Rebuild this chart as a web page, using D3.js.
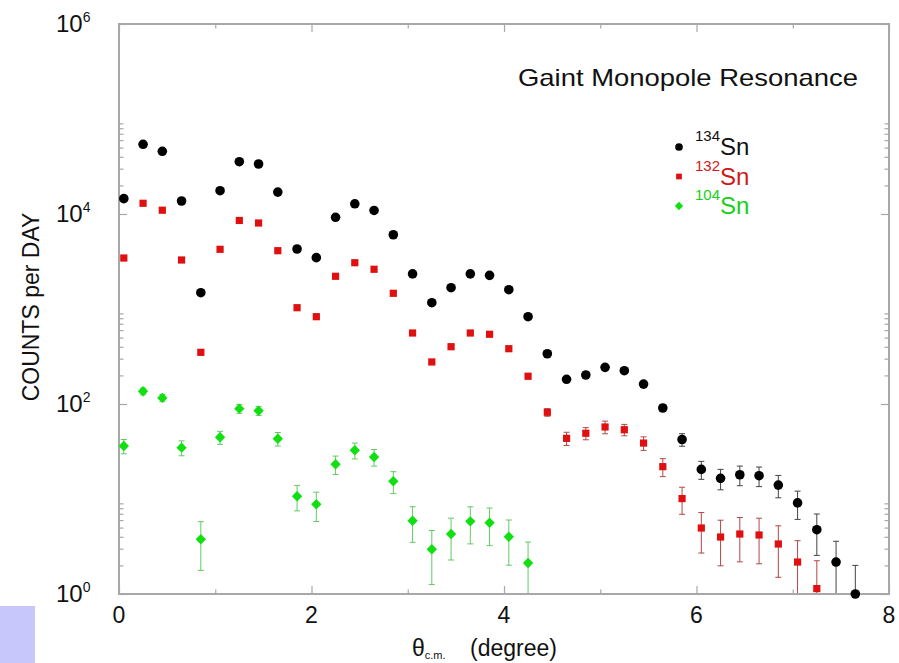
<!DOCTYPE html>
<html>
<head>
<meta charset="utf-8">
<script src="https://cdn.jsdelivr.net/npm/d3@7"></script>
<style>
  html, body { margin: 0; padding: 0; background: #fff; }
  svg { display: block; }
  text { font-family: "Liberation Sans", Arial, Helvetica, sans-serif; fill: #111; }
</style>
</head>
<body>
<svg id="chart" width="899" height="663"></svg>
<script>
// Scattering angle (c.m., degrees) of each bin
const theta134 = [0.05, 0.25, 0.45, 0.65, 0.85, 1.05, 1.25, 1.45, 1.65, 1.85,
  2.05, 2.25, 2.45, 2.65, 2.85, 3.05, 3.25, 3.45, 3.65, 3.85,
  4.05, 4.25, 4.45, 4.65, 4.85, 5.05, 5.25, 5.45, 5.65, 5.85,
  6.05, 6.25, 6.45, 6.65, 6.85, 7.05, 7.25, 7.45, 7.65];
const theta132 = theta134.slice(0, 37);
const theta104 = theta134.slice(0, 22);

// Counts per day and their errors
const counts134 = [14500, 54200, 45700, 13700, 1485, 17600, 35500, 33600, 17000, 4280,
  3470, 9230, 12800, 10900, 6050, 2340, 1165, 1675, 2340, 2260,
  1596, 830, 338, 182, 202, 243, 224, 162, 90.8, 42.3,
  20.5, 16.5, 18.0, 17.6, 14.0, 9.1, 4.75, 2.17, 1.0];
const err134 = [300, 800, 700, 300, 60, 350, 600, 600, 350, 120,
  110, 220, 280, 250, 160, 80, 50, 60, 80, 80,
  60, 40, 18, 12, 13, 14, 14, 11, 7, 6.4,
  4.4, 4.0, 4.2, 4.1, 3.7, 3.0, 2.2, 1.42, 1.0];

const counts132 = [3440, 12970, 10960, 3280, 350, 4250, 8550, 8040, 4110, 1032,
  830, 2210, 3070, 2620, 1463, 559, 277, 401, 559, 542,
  382, 196, 81.8, 43.5, 49.2, 57.3, 53.6, 38.8, 21.9, 10.1,
  4.95, 3.98, 4.28, 4.18, 3.36, 2.17, 1.14];
const err132 = [90, 200, 180, 90, 20, 100, 160, 150, 100, 40,
  35, 60, 75, 65, 45, 25, 16, 20, 25, 25,
  20, 12, 7.5, 6.9, 7.2, 8.7, 7.4, 6.3, 4.7, 3.2,
  2.25, 2.0, 2.1, 2.1, 1.86, 1.47, 1.1];

const counts104 = [36.1, 136, 116, 34.7, 3.77, 44.6, 89.3, 85.0, 43.1, 10.7,
  8.8, 23.2, 32.6, 27.7, 15.4, 5.9, 2.96, 4.28, 5.82, 5.63,
  4.01, 2.12];
const err104 = [6.2, 11, 10, 6.2, 2.0, 7.0, 9.5, 9.2, 7.0, 3.2,
  3.0, 5.1, 6.2, 5.5, 4.0, 2.4, 1.7, 2.0, 2.45, 2.4,
  2.0, 1.4];

// Axis ticks and labels
const xMajorTicks = [0, 2, 4, 6, 8];
const xMinorTicks = [1, 3, 5, 7];
const yMajorExp = [0, 2, 4, 6];
const yMinorDecades = [0, 2, 4];
const seriesNames = ["134", "132", "104"];

const svg = d3.select("#chart");
const m = { left: 119, right: 889, top: 24, bottom: 594 };

const x = d3.scaleLinear().domain([0, 8]).range([m.left, m.right]);
const y = d3.scaleLog().domain([1, 1e6]).range([m.bottom, m.top]);

// small tinted block at the bottom-left corner
svg.append("rect").attr("x", 0).attr("y", 606).attr("width", 35).attr("height", 57)
  .attr("fill", "#c7c7fb");

const series = [
  { name: seriesNames[0], x: theta134, v: counts134, e: err134, color: "#000000", bar: "#444444", text: "#111111", shape: "circle" },
  { name: seriesNames[1], x: theta132, v: counts132, e: err132, color: "#e01010", bar: "#b04848", text: "#d01818", shape: "square" },
  { name: seriesNames[2], x: theta104, v: counts104, e: err104, color: "#10e010", bar: "#60cc60", text: "#18d018", shape: "diamond" }
];

// clip for the error bars
svg.append("defs").append("clipPath").attr("id", "plotClip")
  .append("rect").attr("x", m.left).attr("y", m.top)
  .attr("width", m.right - m.left).attr("height", m.bottom - m.top);

// ---- error bars ----
const barLayer = svg.append("g").attr("clip-path", "url(#plotClip)");
series.forEach(s => {
  const g = barLayer.append("g").attr("stroke", s.bar).attr("stroke-width", 1).attr("fill", "none");
  s.x.forEach((t, i) => {
    const hi = s.v[i] + s.e[i];
    const lo = s.v[i] - s.e[i];
    const yHi = y(hi);
    const yLo = lo > 0 ? y(lo) : m.bottom + 20;
    const cx = x(t);
    g.append("line").attr("x1", cx).attr("x2", cx).attr("y1", yHi).attr("y2", yLo);
    g.append("line").attr("x1", cx - 3).attr("x2", cx + 3).attr("y1", yHi).attr("y2", yHi);
    if (lo > 0) g.append("line").attr("x1", cx - 3).attr("x2", cx + 3).attr("y1", yLo).attr("y2", yLo);
  });
});

// ---- frame and ticks ----
const axisColor = "#a8a8a8";
function styleAxis(g) {
  g.select(".domain").remove();
  g.selectAll(".tick line").attr("stroke", axisColor).attr("stroke-width", 1.2);
  g.selectAll(".tick text").remove();
}
svg.append("g").attr("transform", `translate(0,${m.bottom})`)
  .call(d3.axisBottom(x).tickValues(xMajorTicks).tickSize(-8)).call(styleAxis);
svg.append("g").attr("transform", `translate(0,${m.bottom})`)
  .call(d3.axisBottom(x).tickValues(xMinorTicks).tickSize(-4.5)).call(styleAxis);
svg.append("g").attr("transform", `translate(0,${m.top})`)
  .call(d3.axisTop(x).tickValues(xMajorTicks).tickSize(-8)).call(styleAxis);
svg.append("g").attr("transform", `translate(0,${m.top})`)
  .call(d3.axisTop(x).tickValues(xMinorTicks).tickSize(-4.5)).call(styleAxis);

const yMajorVals = yMajorExp.map(e => Math.pow(10, e));
const yMinorVals = [];
yMinorDecades.forEach(d => { for (let k = 2; k <= 9; k++) yMinorVals.push(k * Math.pow(10, d)); });
svg.append("g").attr("transform", `translate(${m.left},0)`)
  .call(d3.axisLeft(y).tickValues(yMajorVals).tickSize(-8)).call(styleAxis);
svg.append("g").attr("transform", `translate(${m.left},0)`)
  .call(d3.axisLeft(y).tickValues(yMinorVals).tickSize(-4.5)).call(styleAxis);
svg.append("g").attr("transform", `translate(${m.right},0)`)
  .call(d3.axisRight(y).tickValues(yMajorVals).tickSize(-8)).call(styleAxis);
svg.append("g").attr("transform", `translate(${m.right},0)`)
  .call(d3.axisRight(y).tickValues(yMinorVals).tickSize(-4.5)).call(styleAxis);

svg.append("rect").attr("x", m.left).attr("y", m.top)
  .attr("width", m.right - m.left).attr("height", m.bottom - m.top)
  .attr("fill", "none").attr("stroke", axisColor).attr("stroke-width", 2);

// tick labels
svg.append("g").selectAll("text").data(xMajorTicks).join("text")
  .attr("x", d => x(d)).attr("y", 623)
  .attr("text-anchor", "middle").attr("font-size", 23)
  .text(d => d);

const yLab = svg.append("g").selectAll("text").data(yMajorExp).join("text")
  .attr("x", 56).attr("y", d => y(Math.pow(10, d)) + 8)
  .attr("font-size", 24);
yLab.append("tspan").text("10");
yLab.append("tspan").attr("font-size", 14).attr("dy", -10).text(d => d);

// axis titles
svg.append("text")
  .attr("transform", "translate(39,307) rotate(-90)")
  .attr("text-anchor", "middle").attr("font-size", 23)
  .text("COUNTS per DAY");

const xt = svg.append("text").attr("y", 656).attr("font-size", 23);
xt.append("tspan").attr("x", 412).text("θ");
xt.append("tspan").attr("font-size", 11).attr("dy", 3).text("c.m.");
xt.append("tspan").attr("x", 470).attr("dy", -3).text("(degree)");

// title
svg.append("text").attr("x", 518).attr("y", 86).attr("font-size", 24)
  .attr("textLength", 340).attr("lengthAdjust", "spacingAndGlyphs")
  .text("Gaint Monopole Resonance");

// ---- markers ----
function drawMarker(g, shape, cx, cy, color, k = 1) {
  if (shape === "circle") {
    g.append("circle").attr("cx", cx).attr("cy", cy).attr("r", 4.8 * k).attr("fill", color);
  } else if (shape === "square") {
    const h = 3.6 * k;
    g.append("rect").attr("x", cx - h).attr("y", cy - h).attr("width", 2 * h).attr("height", 2 * h).attr("fill", color);
  } else {
    const r = 5.2 * k;
    g.append("path").attr("d", `M${cx},${cy - r}L${cx + r},${cy}L${cx},${cy + r}L${cx - r},${cy}Z`).attr("fill", color);
  }
}
const markLayer = svg.append("g");
series.forEach(s => {
  s.x.forEach((t, i) => drawMarker(markLayer, s.shape, x(t), y(s.v[i]), s.color));
});

// ---- legend ----
const legend = svg.append("g");
series.forEach((s, i) => {
  const yy = 147 + i * 29.5;
  drawMarker(legend, s.shape, 679, yy, s.color, 0.8);
  const t = legend.append("text").attr("x", 695).attr("y", yy + 8).attr("font-size", 24)
    .style("fill", s.text);
  t.append("tspan").attr("font-size", 15).attr("dy", -14).text(s.name);
  t.append("tspan").attr("dy", 14).text("Sn");
});
</script>
</body>
</html>
